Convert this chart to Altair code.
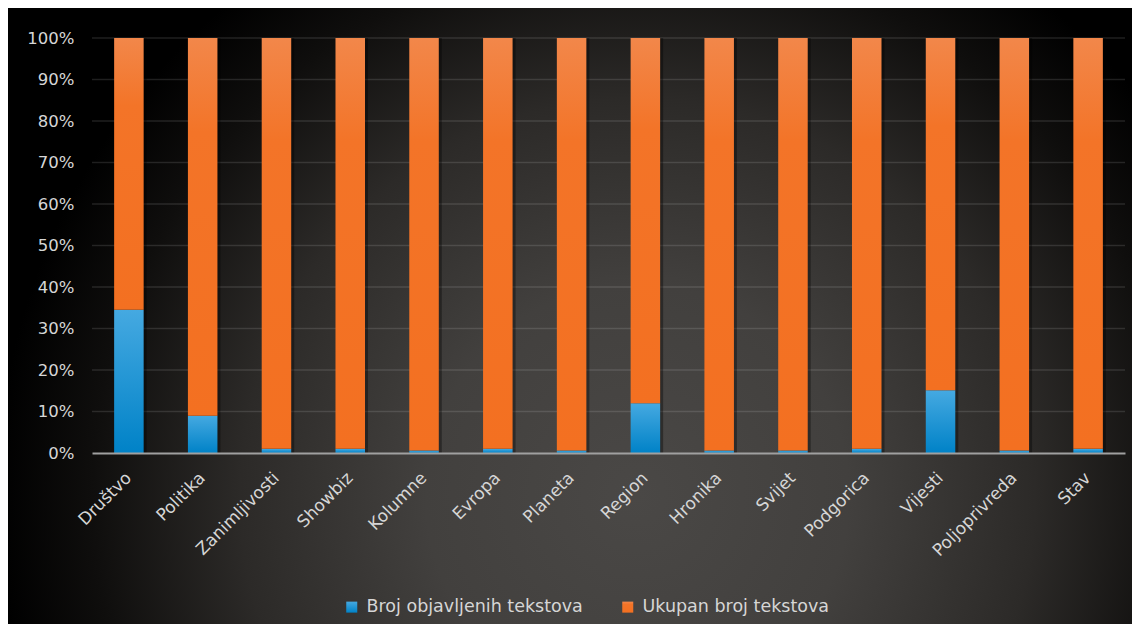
import altair as alt
import pandas as pd

categories = ["Društvo", "Politika", "Zanimljivosti", "Showbiz", "Kolumne", "Evropa",
              "Planeta", "Region", "Hronika", "Svijet", "Podgorica", "Vijesti",
              "Poljoprivreda", "Stav"]
series = ["Broj objavljenih tekstova", "Ukupan broj tekstova"]
objavljeni_share = [34.5, 9.0, 1.0, 1.0, 0.6, 1.0, 0.6, 12.0, 0.6, 0.6, 1.0, 15.1, 0.6, 1.0]
ukupno_share = [100 - v for v in objavljeni_share]
grid_ticks = [0.1, 0.2, 0.3, 0.4, 0.5, 0.6, 0.7, 0.8, 0.9, 1.0]
axis_ticks = [0, 0.1, 0.2, 0.3, 0.4, 0.5, 0.6, 0.7, 0.8, 0.9, 1.0]

rows = []
for c, b, u in zip(categories, objavljeni_share, ukupno_share):
    rows.append({"kategorija": c, "serija": series[0], "vrijednost": b, "red": 0})
    rows.append({"kategorija": c, "serija": series[1], "vrijednost": u, "red": 1})
df = pd.DataFrame(rows)

W, H = 1033, 415
PAD_L, PAD_T, PAD_R, PAD_B = 84, 30, 7, 171

FONT = "DejaVu Sans"
LBL = "#d6d6d6"

yscale = alt.Scale(domain=[0, 1])
yaxis = alt.Axis(values=axis_ticks, format=".0%", title=None, grid=False, ticks=False,
                 domain=False, labelColor=LBL, labelFontSize=16.5, labelFont=FONT,
                 labelPadding=18, zindex=2)
xscale = alt.Scale(paddingInner=0.6, paddingOuter=0.3)

bg = alt.Chart(pd.DataFrame({"a": [0]})).mark_rect(
    fill={
        "gradient": "radial",
        "x1": 0.56, "y1": 0.66, "r1": 0.0,
        "x2": 0.56, "y2": 0.66, "r2": 0.57,
        "stops": [
            {"offset": 0.0, "color": "#4a4846"},
            {"offset": 0.33, "color": "#42403e"},
            {"offset": 0.62, "color": "#2c2a28"},
            {"offset": 0.85, "color": "#0f0e0d"},
            {"offset": 1.0, "color": "#000000"},
        ],
    }
).encode(
    x=alt.value(-PAD_L), x2=alt.value(W + PAD_R),
    y=alt.value(-PAD_T), y2=alt.value(H + PAD_B),
)

grid = alt.Chart(pd.DataFrame({"v": grid_ticks})).mark_rule(
    color="#ffffff", opacity=0.12, strokeWidth=1.5
).encode(y=alt.Y("v:Q", scale=yscale, axis=yaxis))

shadow = alt.Chart(df).mark_bar(color="#000000", opacity=0.35, xOffset=3).encode(
    x=alt.X("kategorija:N", sort=categories, scale=xscale),
    y=alt.Y("vrijednost:Q", stack="normalize", scale=yscale, axis=yaxis),
)

blue_grad = ("{gradient: 'linear', x1: 0, y1: 0, x2: 0, y2: 1, stops: ["
             "{offset: 0, color: '#45a9e1'}, {offset: 1, color: '#0082c7'}]}")
orange_grad = ("{gradient: 'linear', x1: 0, y1: 0, x2: 0, y2: 1, stops: ["
               "{offset: 0, color: '#f2874a'}, {offset: 0.25, color: '#f37428'}, {offset: 1, color: '#f37021'}]}")

bars = alt.Chart(df).mark_bar().encode(
    x=alt.X("kategorija:N", sort=categories, scale=xscale,
            axis=alt.Axis(title=None, labelAngle=-45, labelAlign="right",
                          labelBaseline="middle", labelPadding=22, ticks=False,
                          labelColor=LBL, labelFontSize=17, labelFont=FONT,
                          domainColor="#a0a0a0", domainWidth=2, zindex=2)),
    y=alt.Y("vrijednost:Q", stack="normalize", scale=yscale, axis=yaxis),
    color=alt.Color("serija:N",
                    scale=alt.Scale(domain=series,
                                    range=[{"expr": blue_grad}, {"expr": orange_grad}]),
                    legend=alt.Legend(orient="none", legendX=251, legendY=560,
                                      direction="horizontal", title=None,
                                      symbolType="square", symbolSize=121,
                                      symbolStrokeWidth=0, labelLimit=400,
                                      labelColor=LBL, labelFontSize=17.5, labelFont=FONT,
                                      columnPadding=36, labelOffset=6)),
    order=alt.Order("red:Q"),
)

chart = alt.layer(bg, grid, shadow, bars).properties(
    width=W, height=H,
    padding={"left": PAD_L, "top": PAD_T, "right": PAD_R, "bottom": PAD_B},
    autosize=alt.AutoSizeParams(type="none"),
    background="#000000",
).configure_view(stroke=None)

chart.save("out.html", embed_options={"renderer": "svg", "actions": False})
